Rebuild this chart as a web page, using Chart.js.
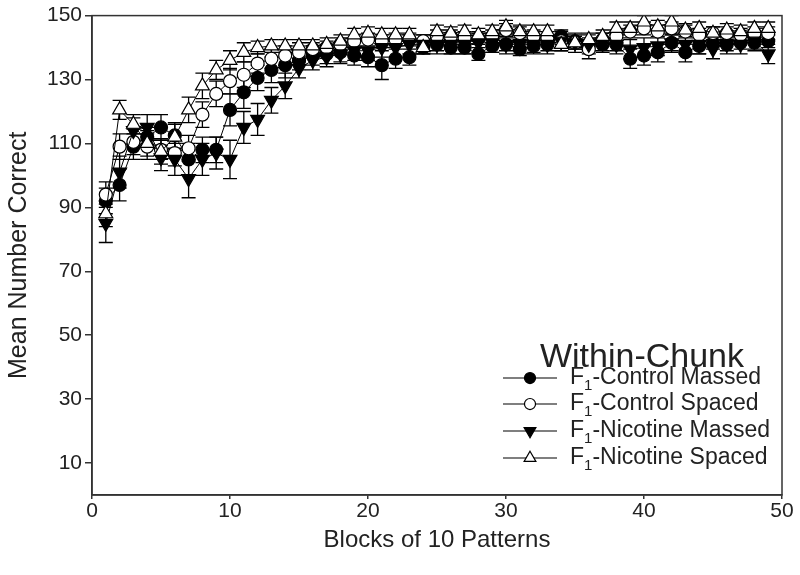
<!DOCTYPE html>
<html>
<head>
<meta charset="utf-8">
<script src="https://cdn.jsdelivr.net/npm/chart.js@4.4.0/dist/chart.umd.min.js"></script>
<style>
  html, body { margin: 0; padding: 0; background: #fff; }
</style>
</head>
<body>
<canvas id="myChart" width="800" height="575"></canvas>
<script>
const blocks = [1, 2, 3, 4, 5, 6, 7, 8, 9, 10, 11, 12, 13, 14, 15, 16, 17, 18, 19, 20,
  21, 22, 23, 24, 25, 26, 27, 28, 29, 30, 31, 32, 33, 34, 35, 36, 37, 38, 39, 40,
  41, 42, 43, 44, 45, 46, 47, 48, 49];

const labels = ['F₁-Control Massed', 'F₁-Control Spaced', 'F₁-Nicotine Massed', 'F₁-Nicotine Spaced'];

const controlMassed = [92, 97, 109, 112, 115, 112.5, 105, 108, 108, 120.5,
  126, 130.5, 133, 134.5, 136, 137.5, 138, 138.5, 137.5, 137,
  134.5, 136.5, 137, 140, 141, 140, 140, 138, 140.5, 141,
  139.5, 140.5, 141, 143.5, 142, 141, 141, 141, 136.5, 137.5,
  138.5, 141.5, 138.5, 140.5, 141.5, 141, 141.5, 141.5, 142];
const controlSpaced = [94, 109, 110.5, 109, 108, 107, 108.5, 119, 125.5, 129.5,
  131.5, 135, 136.5, 137.5, 138.5, 139.5, 140, 141, 142, 142.5,
  142, 142.5, 142.5, 142, 143.5, 143.5, 143, 143, 143.5, 145.5,
  144.5, 143.5, 143, 142, 141.5, 139.5, 142.5, 143.5, 145, 146,
  145, 146, 145, 144, 144.5, 144.5, 144, 144.5, 144.5];
const nicotineMassed = [85, 101, 114, 115, 105.5, 105, 99, 105, 107, 105,
  115, 117.5, 123.5, 128, 133.5, 136, 137, 138, 139, 139,
  140, 140, 141, 141, 141, 141, 141, 141.5, 141.5, 141,
  141, 141, 141, 142, 141.5, 141, 141.5, 141, 139.5, 140,
  140.5, 141.5, 141, 141, 139.5, 141, 141, 142, 138];
const nicotineSpaced = [88, 120.5, 116, 110, 107.5, 112, 120.5, 128, 133, 136,
  138.5, 140, 140.5, 140.5, 140.5, 140.5, 141, 142, 144, 144.5,
  144, 144, 144, 140, 145, 144.5, 145, 144, 145, 146.5,
  145, 145, 145, 141, 141.5, 142.5, 143.5, 146, 146, 148,
  146.5, 148, 145.5, 146, 144.5, 145.5, 145, 146, 146];

// error bar half lengths (SEM)
const controlMassedErr = [4, 5, 4, 3, 4, 4, 5, 4, 4, 5,
  5, 4, 4, 4, 3, 3, 3, 3, 3, 3,
  4.5, 3, 2.5, 2, 2, 2, 2, 2, 2, 2,
  2, 2, 2, 2, 2, 2, 2, 2, 3, 3,
  3, 2.5, 3, 2.5, 2, 2, 2, 2, 2];
const controlSpacedErr = [4, 4, 4, 4, 3, 4, 4, 4, 4, 4,
  4, 3, 3, 3, 3, 2, 2, 2, 2, 2,
  2, 2, 2, 2, 2, 2, 2, 2, 2, 2,
  2, 2, 2, 2, 2, 3, 2, 2, 2, 2,
  2, 2, 2, 2, 2, 2, 2, 2, 2];
const nicotineMassedErr = [6, 5, 4, 4, 4, 5, 6, 5, 5, 6,
  5, 5, 4, 4, 3, 3, 3, 3, 3, 3,
  3, 3, 3, 3, 3, 3, 3, 3, 3, 3,
  3, 3, 3, 3, 3, 3, 3, 3, 3, 3,
  3, 3, 3, 3, 3, 3, 3, 3, 3];
const nicotineSpacedErr = [4, 3, 3, 4, 4, 4, 4, 4, 3, 3,
  3, 2, 2, 2, 2, 2, 2, 2, 2, 2,
  2, 2, 2, 2, 2, 2, 2, 2, 2, 2,
  2, 2, 2, 2, 2, 2, 2, 2, 2, 2,
  2, 2, 2, 2, 2, 2, 2, 2, 2];

const xTicks = [0, 10, 20, 30, 40, 50];
const yTicks = [10, 30, 50, 70, 90, 110, 130, 150];
const legendTitle = 'Within-Chunk';

const FONT = '"Liberation Sans", Arial, sans-serif';
const INK = '#222';

const styles = [
  { pointStyle: 'circle', radius: 6.5, fill: '#000', rotation: 0 },
  { pointStyle: 'circle', radius: 6.5, fill: '#fff', rotation: 0 },
  { pointStyle: 'triangle', radius: 8, fill: '#000', rotation: 180 },
  { pointStyle: 'triangle', radius: 8, fill: '#fff', rotation: 0 }
];
const series = [controlMassed, controlSpaced, nicotineMassed, nicotineSpaced];
const errors = [controlMassedErr, controlSpacedErr, nicotineMassedErr, nicotineSpacedErr];

const datasets = series.map((vals, i) => ({
  label: labels[i],
  data: blocks.map((b, j) => ({ x: b, y: vals[j] })),
  errors: errors[i],
  order: 4 - i, // open triangles end up on top
  borderColor: '#000',
  borderWidth: 1,
  pointStyle: styles[i].pointStyle,
  pointRotation: styles[i].rotation,
  pointRadius: styles[i].radius,
  pointBackgroundColor: styles[i].fill,
  pointBorderColor: '#000',
  pointBorderWidth: 1.2,
  tension: 0
}));

function marker(ctx, st, x, y) {
  ctx.save();
  ctx.fillStyle = st.fill;
  ctx.strokeStyle = '#000';
  ctx.lineWidth = 1.2;
  ctx.beginPath();
  if (st.pointStyle === 'circle') {
    ctx.arc(x, y, st.radius, 0, Math.PI * 2);
  } else {
    let rad = st.rotation * Math.PI / 180;
    for (let k = 0; k < 3; k++) {
      const px = x + Math.sin(rad) * st.radius, py = y - Math.cos(rad) * st.radius;
      k === 0 ? ctx.moveTo(px, py) : ctx.lineTo(px, py);
      rad += 2 * Math.PI / 3;
    }
    ctx.closePath();
  }
  ctx.fill();
  ctx.stroke();
  ctx.restore();
}

const errorBars = {
  id: 'errorBars',
  beforeDatasetsDraw(chart) {
    const { ctx, scales: { x, y } } = chart;
    ctx.save();
    ctx.strokeStyle = '#000';
    ctx.lineWidth = 1.3;
    chart.data.datasets.forEach(ds => {
      ds.data.forEach((p, j) => {
        const e = ds.errors[j];
        const px = x.getPixelForValue(p.x);
        const top = y.getPixelForValue(p.y + e), bot = y.getPixelForValue(p.y - e);
        ctx.beginPath();
        ctx.moveTo(px, top); ctx.lineTo(px, bot);
        ctx.moveTo(px - 7, top); ctx.lineTo(px + 7, top);
        ctx.moveTo(px - 7, bot); ctx.lineTo(px + 7, bot);
        ctx.stroke();
      });
    });
    ctx.restore();
  }
};

const frameAndLegend = {
  id: 'frameAndLegend',
  afterDraw(chart) {
    const { ctx, chartArea: a } = chart;
    ctx.save();
    ctx.strokeStyle = '#333';
    ctx.lineWidth = 1.5;
    ctx.strokeRect(a.left, a.top, a.right - a.left, a.bottom - a.top);

    // legend inside the plot, lower right
    ctx.fillStyle = INK;
    ctx.textBaseline = 'middle';
    ctx.textAlign = 'center';
    ctx.font = '34px ' + FONT;
    ctx.fillText(legendTitle, 642, 358);
    const rows = [378, 404, 431, 458];
    labels.forEach((lab, i) => {
      const yy = rows[i];
      ctx.strokeStyle = '#000';
      ctx.lineWidth = 1.2;
      ctx.beginPath();
      ctx.moveTo(503, yy); ctx.lineTo(557, yy);
      ctx.stroke();
      marker(ctx, Object.assign({}, styles[i], { radius: styles[i].radius * 0.85 }), 530, yy);
      const parts = lab.split('₁');
      ctx.textAlign = 'left';
      ctx.fillStyle = INK;
      ctx.font = '23px ' + FONT;
      let xx = 570;
      ctx.fillText(parts[0], xx, yy);
      xx += ctx.measureText(parts[0]).width;
      ctx.font = '15px ' + FONT;
      ctx.fillText('1', xx, yy + 8);
      xx += ctx.measureText('1').width;
      ctx.font = '23px ' + FONT;
      ctx.fillText(parts[1], xx, yy);
    });
    ctx.restore();
  }
};

new Chart(document.getElementById('myChart'), {
  type: 'line',
  data: { datasets },
  plugins: [errorBars, frameAndLegend],
  options: {
    responsive: false,
    animation: false,
    devicePixelRatio: 1,
    layout: { padding: { top: 13, right: 18, left: 0, bottom: 16 } },
    plugins: { legend: { display: false }, tooltip: { enabled: false } },
    scales: {
      x: {
        type: 'linear', min: 0, max: 50,
        afterBuildTicks: s => { s.ticks = xTicks.map(v => ({ value: v })); },
        afterFit: s => { s.height = 64; },
        ticks: { color: INK, font: { family: FONT, size: 21 }, padding: 0 },
        grid: { drawOnChartArea: false, drawTicks: true, tickLength: 4, color: '#333', lineWidth: 1.5 },
        border: { display: true, color: '#333', width: 1.5 },
        title: { display: true, text: 'Blocks of 10 Patterns', color: INK, font: { family: FONT, size: 24 }, padding: { top: 4 } }
      },
      y: {
        type: 'linear', min: 0, max: 150,
        afterBuildTicks: s => { s.ticks = yTicks.map(v => ({ value: v })); },
        afterFit: s => { s.width = 92; },
        ticks: { color: INK, font: { family: FONT, size: 21 }, padding: 3 },
        grid: { drawOnChartArea: false, drawTicks: true, tickLength: 7, color: '#333', lineWidth: 1.5 },
        border: { display: true, color: '#333', width: 1.5 },
        title: { display: true, text: 'Mean Number Correct', color: INK, font: { family: FONT, size: 25 }, padding: { bottom: 0 } }
      }
    }
  }
});
</script>
</body>
</html>
